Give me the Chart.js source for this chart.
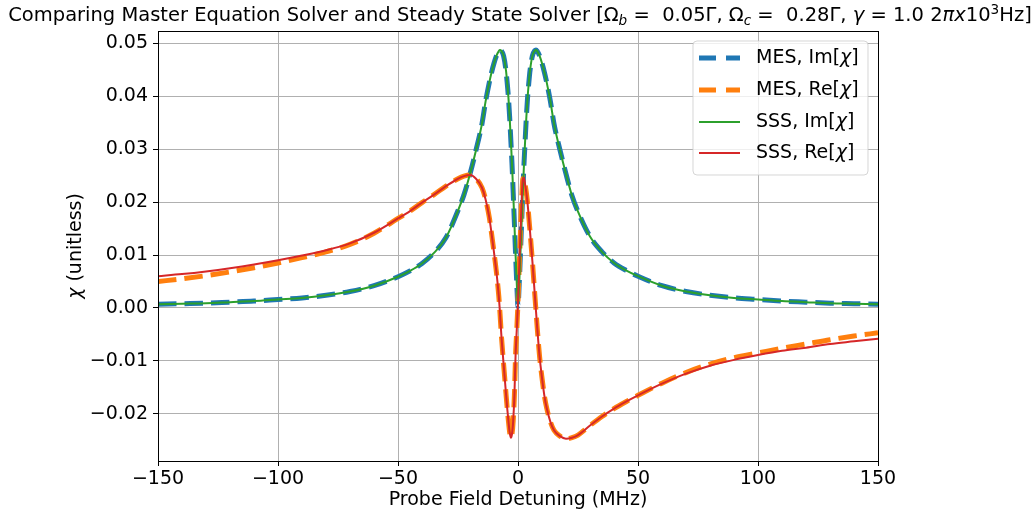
<!DOCTYPE html>
<html>
<head>
<meta charset="utf-8">
<script src="https://cdn.jsdelivr.net/npm/chart.js@4.4.0/dist/chart.umd.min.js"></script>
<style>
  html, body { margin: 0; padding: 0; background: #ffffff; }
  #wrap { width: 1036px; height: 514px; position: relative; }
</style>
</head>
<body>
<div id="wrap"><canvas id="c" width="1036" height="514"></canvas></div>
<script>
// ---- data ----
const detuning = [-150,-140,-130,-120,-110,-100,-90,-80,-70,-60,-50,-45,-40,-35,-30,-25,-22.5,-20,-17.5,-15,-13.5,-12,-11,-10,-9,-8,-7.5,-7,-6,-5,-4.5,-4,-3.5,-3,-2.5,-2,-1.5,-1,-0.5,0,0.5,1,1.5,2,2.5,3,3.5,4,4.5,5,6,7,7.5,8,9,10,11,12,13.5,15,17.5,20,22.5,25,30,35,40,45,50,60,70,80,90,100,110,120,130,140,150];

const sssIm = [0.0007,0.0008,0.0009,0.0011,0.0013,0.0016,0.0019,0.0024,0.0031,0.0042,0.0059,0.0070,0.0084,0.0104,0.0133,0.0184,0.0214,0.0253,0.0298,0.0348,0.0390,0.0425,0.0445,0.0462,0.0476,0.0485,0.0487,0.0486,0.0476,0.0448,0.0425,0.0398,0.0362,0.0318,0.0272,0.0218,0.0160,0.0100,0.0045,0.0003,0.0045,0.0100,0.0160,0.0218,0.0272,0.0318,0.0362,0.0398,0.0425,0.0448,0.0476,0.0486,0.0487,0.0485,0.0476,0.0462,0.0445,0.0425,0.0390,0.0348,0.0298,0.0253,0.0212,0.0182,0.0135,0.0106,0.0085,0.0071,0.0060,0.0042,0.0031,0.0024,0.0019,0.0016,0.0013,0.0011,0.0009,0.0008,0.0007];

const mesIm = [0.0007,0.0008,0.0009,0.0011,0.0013,0.0016,0.0019,0.0024,0.0031,0.0042,0.0059,0.0070,0.0084,0.0104,0.0133,0.0184,0.0214,0.0253,0.0298,0.0348,0.0390,0.0425,0.0445,0.0462,0.0476,0.0485,0.0487,0.0486,0.0476,0.0448,0.0425,0.0398,0.0362,0.0318,0.0272,0.0218,0.0160,0.0100,0.0045,0.0003,0.0045,0.0100,0.0160,0.0218,0.0272,0.0318,0.0362,0.0398,0.0425,0.0448,0.0476,0.0486,0.0487,0.0485,0.0476,0.0462,0.0445,0.0425,0.0390,0.0348,0.0298,0.0253,0.0212,0.0182,0.0135,0.0106,0.0085,0.0071,0.0060,0.0042,0.0031,0.0024,0.0019,0.0016,0.0013,0.0011,0.0009,0.0008,0.0007];

const sssRe = [0.0060,0.0064,0.0069,0.0075,0.0082,0.0090,0.0099,0.0109,0.0122,0.0142,0.0169,0.0183,0.0199,0.0214,0.0230,0.0244,0.0249,0.0251,0.0244,0.0227,0.0205,0.0172,0.0140,0.0105,0.0068,0.0022,-0.0010,-0.0047,-0.0106,-0.0162,-0.0189,-0.0213,-0.0234,-0.0245,-0.0238,-0.0213,-0.0165,-0.0088,-0.0040,0.0012,0.0075,0.0138,0.0200,0.0243,0.0246,0.0232,0.0217,0.0197,0.0172,0.0145,0.0088,0.0025,-0.0006,-0.0037,-0.0092,-0.0132,-0.0166,-0.0190,-0.0215,-0.0231,-0.0242,-0.0247,-0.0245,-0.0240,-0.0222,-0.0205,-0.0190,-0.0177,-0.0165,-0.0143,-0.0124,-0.0109,-0.0098,-0.0089,-0.0081,-0.0075,-0.0068,-0.0063,-0.0058];

const mesRe = [0.0050,0.0055,0.0061,0.0068,0.0076,0.0085,0.0095,0.0106,0.0120,0.0141,0.0169,0.0183,0.0199,0.0214,0.0230,0.0244,0.0249,0.0251,0.0244,0.0227,0.0205,0.0172,0.0140,0.0105,0.0068,0.0022,-0.0010,-0.0047,-0.0106,-0.0162,-0.0189,-0.0213,-0.0234,-0.0245,-0.0238,-0.0213,-0.0165,-0.0088,-0.0040,0.0012,0.0075,0.0138,0.0200,0.0243,0.0246,0.0232,0.0217,0.0197,0.0172,0.0145,0.0088,0.0025,-0.0006,-0.0037,-0.0092,-0.0132,-0.0166,-0.0190,-0.0215,-0.0231,-0.0242,-0.0247,-0.0245,-0.0240,-0.0222,-0.0205,-0.0190,-0.0177,-0.0165,-0.0142,-0.0122,-0.0106,-0.0094,-0.0085,-0.0076,-0.0068,-0.0060,-0.0053,-0.0047];

const xTicks = [-150,-100,-50,0,50,100,150];
const yTicks = [-0.02,-0.01,0.00,0.01,0.02,0.03,0.04,0.05];
const seriesLabels = ['MES, Im[', 'MES, Re[', 'SSS, Im[', 'SSS, Re['];
const seriesColors = ['#1f77b4', '#ff7f0e', '#2ca02c', '#d62728'];

// ---- helpers ----
const FAM = '"DejaVu Sans", sans-serif';
const DASH = [18.5, 8];
const DASH_W = 5;
function pts(ys) { return detuning.map((x, i) => ({x: x, y: ys[i]})); }
function fmtMinus(s) { return s.replace('-', '\u2212'); }

function richWidth(ctx, parts, size) {
  let w = 0;
  for (const p of parts) {
    const s = (p.sub || p.sup) ? size * 0.7 : size;
    ctx.font = (p.italic ? 'italic ' : '') + s + 'px ' + FAM;
    w += ctx.measureText(p.t).width;
  }
  return w;
}
function drawRich(ctx, parts, x, y, size) {
  let cx = x;
  for (const p of parts) {
    const s = (p.sub || p.sup) ? size * 0.7 : size;
    ctx.font = (p.italic ? 'italic ' : '') + s + 'px ' + FAM;
    let dy = 0;
    if (p.sub) dy = size * 0.22;
    if (p.sup) dy = -size * 0.38;
    ctx.fillText(p.t, cx, y + dy);
    cx += ctx.measureText(p.t).width;
  }
}

const decorPlugin = {
  id: 'decor',
  afterDatasetsDraw(chart) {
    const ctx = chart.ctx;
    const a = chart.chartArea;
    ctx.save();
    // spines
    ctx.strokeStyle = '#000';
    ctx.lineWidth = 1;
    ctx.strokeRect(Math.round(a.left) + 0.5, Math.round(a.top) + 0.5, Math.round(a.right - a.left), Math.round(a.bottom - a.top));

    // legend
    const bx = 693, by = 41, bw = 175, bh = 134, r = 4;
    ctx.beginPath();
    ctx.moveTo(bx + r, by);
    ctx.arcTo(bx + bw, by, bx + bw, by + bh, r);
    ctx.arcTo(bx + bw, by + bh, bx, by + bh, r);
    ctx.arcTo(bx, by + bh, bx, by, r);
    ctx.arcTo(bx, by, bx + bw, by, r);
    ctx.closePath();
    ctx.fillStyle = 'rgba(255,255,255,0.8)';
    ctx.fill();
    ctx.strokeStyle = 'rgba(204,204,204,0.8)';
    ctx.lineWidth = 1;
    ctx.stroke();

    const rowsY = [58, 90, 122, 153];
    for (let i = 0; i < 4; i++) {
      const yy = rowsY[i];
      ctx.beginPath();
      ctx.strokeStyle = seriesColors[i];
      if (i < 2) { ctx.lineWidth = DASH_W; ctx.setLineDash([17, 10]); }
      else { ctx.lineWidth = 2; ctx.setLineDash([]); }
      ctx.moveTo(699, yy);
      ctx.lineTo(740, yy);
      ctx.stroke();
      ctx.setLineDash([]);
      ctx.fillStyle = '#000';
      ctx.textBaseline = 'middle';
      ctx.textAlign = 'left';
      drawRich(ctx, [{t: seriesLabels[i]}, {t: '\u03c7', italic: true}, {t: ']'}], 756, yy, 19);
    }
    ctx.restore();
  },
  afterDraw(chart) {
    const ctx = chart.ctx;
    ctx.save();
    ctx.fillStyle = '#000';
    ctx.textAlign = 'left';
    ctx.textBaseline = 'alphabetic';
    // title
    const titleParts = [
      {t: 'Comparing Master Equation Solver and Steady State Solver [\u03a9'},
      {t: 'b', italic: true, sub: true},
      {t: ' =  0.05\u0393, \u03a9'},
      {t: 'c', italic: true, sub: true},
      {t: ' =  0.28\u0393, '},
      {t: '\u03b3', italic: true},
      {t: ' = 1.0 2'},
      {t: '\u03c0x', italic: true},
      {t: '10'},
      {t: '3', sup: true},
      {t: 'Hz]'}
    ];
    let size = 17;
    const w0 = richWidth(ctx, titleParts, size);
    size = size * 1024 / w0;
    const tw = richWidth(ctx, titleParts, size);
    drawRich(ctx, titleParts, 520 - tw / 2, 21, size);

    // x label
    ctx.textBaseline = 'middle';
    const xl = [{t: 'Probe Field Detuning (MHz)'}];
    const xw = richWidth(ctx, xl, 19);
    drawRich(ctx, xl, 518 - xw / 2, 500, 19);

    // y label
    ctx.translate(76, 246);
    ctx.rotate(-Math.PI / 2);
    const yl = [{t: '\u03c7', italic: true}, {t: ' (unitless)'}];
    const yw = richWidth(ctx, yl, 19);
    drawRich(ctx, yl, -yw / 2, 0, 19);
    ctx.restore();
  }
};

Chart.defaults.font.family = FAM;
Chart.defaults.font.size = 19;
Chart.defaults.color = '#000';

function ds(label, ys, color, dashed, order) {
  return {
    label: label,
    data: pts(ys),
    borderColor: color,
    backgroundColor: color,
    borderWidth: dashed ? DASH_W : 2,
    borderDash: dashed ? DASH : [],
    borderCapStyle: 'butt',
    pointRadius: 0,
    cubicInterpolationMode: 'monotone',
    fill: false,
    order: order
  };
}

new Chart(document.getElementById('c'), {
  type: 'line',
  data: {
    datasets: [
      ds('MES, Im[χ]', mesIm, seriesColors[0], true, 4),
      ds('MES, Re[χ]', mesRe, seriesColors[1], true, 3),
      ds('SSS, Im[χ]', sssIm, seriesColors[2], false, 2),
      ds('SSS, Re[χ]', sssRe, seriesColors[3], false, 1)
    ]
  },
  options: {
    responsive: false,
    animation: false,
    devicePixelRatio: 1,
    layout: { padding: { top: 31, right: 158, left: 0, bottom: 0 } },
    plugins: { legend: { display: false }, tooltip: { enabled: false }, title: { display: false } },
    scales: {
      x: {
        type: 'linear',
        min: -150, max: 150,
        afterBuildTicks(scale) { scale.ticks = xTicks.map(v => ({value: v})); },
        afterFit(scale) { scale.height = 53; },
        ticks: {
          padding: 2,
          font: { size: 19 },
          color: '#000',
          maxRotation: 0,
          autoSkip: false,
          callback: (v) => fmtMinus(String(v))
        },
        grid: { color: '#b0b0b0', lineWidth: 1, tickLength: 5, tickColor: '#000' },
        border: { color: '#000', width: 1 }
      },
      y: {
        type: 'linear',
        min: -0.0289, max: 0.0523,
        afterBuildTicks(scale) { scale.ticks = yTicks.map(v => ({value: v})); },
        afterFit(scale) { scale.width = 158; },
        ticks: {
          padding: 5,
          font: { size: 19 },
          color: '#000',
          autoSkip: false,
          callback: (v) => fmtMinus(Number(v).toFixed(2))
        },
        grid: { color: '#b0b0b0', lineWidth: 1, tickLength: 5, tickColor: '#000' },
        border: { color: '#000', width: 1 }
      }
    }
  },
  plugins: [decorPlugin]
});
</script>
</body>
</html>
